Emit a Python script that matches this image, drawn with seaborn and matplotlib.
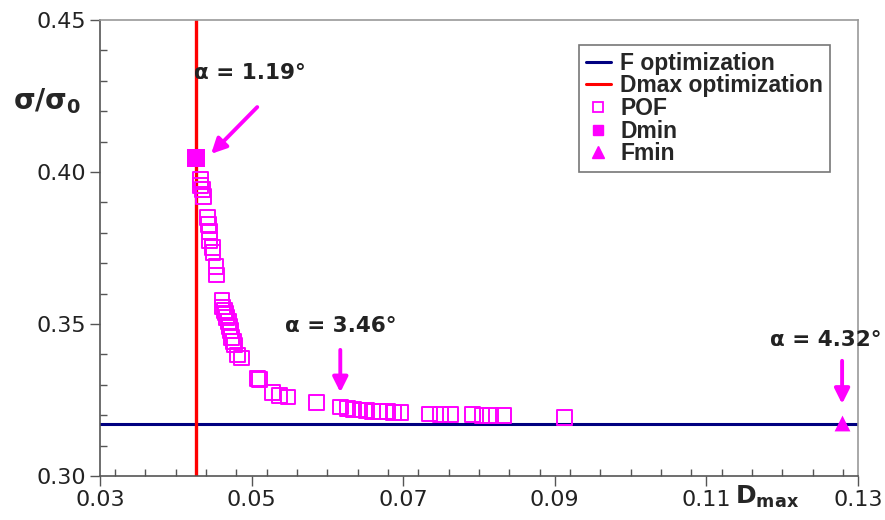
import matplotlib
matplotlib.use("Agg")
import matplotlib.pyplot as plt
import seaborn as sns
import pandas as pd
from matplotlib.ticker import MultipleLocator, FixedLocator
from matplotlib.lines import Line2D

# ---- data ----
pof_x = [0.0432, 0.0433, 0.0435, 0.0436, 0.0442, 0.0443, 0.0444, 0.0445, 0.0448, 0.0449,
         0.0453, 0.0454, 0.0461, 0.0462, 0.0464, 0.0465, 0.0467, 0.0469, 0.0471, 0.0472,
         0.0474, 0.0476, 0.0477, 0.0481, 0.0487, 0.0508, 0.0510, 0.0528, 0.0537, 0.0548,
         0.0586, 0.0617, 0.0626, 0.0634, 0.0643, 0.0652, 0.0660, 0.0669, 0.0679, 0.0687,
         0.0696, 0.0735, 0.0749, 0.0762, 0.0791, 0.0804, 0.0815, 0.0832, 0.0913]
pof_y = [0.3974, 0.3957, 0.3941, 0.3918, 0.3849, 0.3826, 0.3803, 0.3776, 0.3753, 0.3734,
         0.3688, 0.3661, 0.3579, 0.3556, 0.3545, 0.3536, 0.3520, 0.3507, 0.3493, 0.3480,
         0.3457, 0.3443, 0.3431, 0.3398, 0.3388, 0.3322, 0.3316, 0.3276, 0.3266, 0.3260,
         0.3243, 0.3227, 0.3222, 0.3220, 0.3217, 0.3215, 0.3213, 0.3212, 0.3211, 0.3210,
         0.3209, 0.3204, 0.3203, 0.3202, 0.3201, 0.3200, 0.3199, 0.3198, 0.3193]
dmin_x, dmin_y = [0.0427], [0.4046]
fmin_x, fmin_y = [0.1279], [0.3175]
f_opt_y = 0.3171
dmax_opt_x = 0.0427
annotations = ["α = 1.19°", "α = 3.46°", "α = 4.32°"]
x_ticks = [0.03, 0.05, 0.07, 0.09, 0.11, 0.13]
x_ticklabels = ["0.03", "0.05", "0.07", "0.09", "0.11", "0.13"]
y_ticks = [0.30, 0.35, 0.40, 0.45]
y_ticklabels = ["0.30", "0.35", "0.40", "0.45"]
legend_labels = ["F optimization", "Dmax optimization", "POF", "Dmin", "Fmin"]

sns.set_style("white")
plt.rcParams['font.family'] = ['DejaVu Sans']

fig = plt.figure(figsize=(8.85, 5.2), dpi=100)
ax = fig.add_axes([0.113, 0.0846, 0.8565, 0.877])

MAG = "#FF00FF"
ax.axhline(f_opt_y, color="#000080", lw=2.2, zorder=2)
ax.axvline(dmax_opt_x, color="#FF0000", lw=2.4, zorder=2)

pof = pd.DataFrame({"x": pof_x, "y": pof_y})
sns.scatterplot(data=pof, x="x", y="y", ax=ax, marker="s", s=115,
                facecolor="none", edgecolor=MAG, linewidth=1.4, zorder=3)
sns.scatterplot(x=dmin_x, y=dmin_y, ax=ax, marker="s", s=150,
                color=MAG, edgecolor=MAG, linewidth=0, zorder=4)
sns.scatterplot(x=fmin_x, y=fmin_y, ax=ax, marker="^", s=130,
                color=MAG, edgecolor=MAG, linewidth=0, zorder=4)

ax.set_xlim(0.03, 0.13)
ax.set_ylim(0.30, 0.45)
ax.set_xlabel("")
ax.set_ylabel("")

ax.xaxis.set_major_locator(FixedLocator(x_ticks))
ax.set_xticklabels(x_ticklabels)
ax.yaxis.set_major_locator(FixedLocator(y_ticks))
ax.set_yticklabels(y_ticklabels)
ax.xaxis.set_minor_locator(MultipleLocator(0.004))
ax.yaxis.set_minor_locator(MultipleLocator(0.01))
ax.tick_params(axis="both", which="major", direction="out", length=7, width=1,
               color="#555555", labelsize=16, pad=3, bottom=True, left=True,
               labelcolor="#222222")
ax.tick_params(axis="both", which="minor", direction="in", length=5, width=1,
               color="#555555", bottom=True, left=True)
for sp in ax.spines.values():
    sp.set_color("#999999")
    sp.set_linewidth(1.2)
ax.spines["left"].set_color("#555555")
ax.spines["bottom"].set_color("#555555")

# axis titles
fig.text(0.053, 0.805, r"$\mathbf{\sigma/\sigma_0}$", fontsize=20,
         ha="center", va="center")
fig.text(0.867, 0.045, r"$\mathbf{D_{max}}$", fontsize=18,
         ha="center", va="center")

# annotations
akw = dict(fontsize=15.5, fontweight="bold", color="#222222", va="center")
arw = dict(arrowstyle="-|>,head_length=0.9,head_width=0.45", color=MAG, lw=2.8)
ax.text(0.0424, 0.4327, annotations[0], ha="left", **akw)
ax.annotate("", xy=(0.0444, 0.4053), xytext=(0.0510, 0.4220), arrowprops=arw)
ax.text(0.0617, 0.3493, annotations[1], ha="center", **akw)
ax.annotate("", xy=(0.0617, 0.3266), xytext=(0.0617, 0.3424), arrowprops=arw)
ax.text(0.1258, 0.3447, annotations[2], ha="center", clip_on=False, **akw)
ax.annotate("", xy=(0.1279, 0.3228), xytext=(0.1279, 0.3388), arrowprops=arw)

handles = [
    Line2D([], [], color="#000080", lw=2.2),
    Line2D([], [], color="#FF0000", lw=2.2),
    Line2D([], [], marker="s", ls="", markerfacecolor="none", markeredgecolor=MAG, markersize=7, mew=1.3),
    Line2D([], [], marker="s", ls="", color=MAG, markersize=7),
    Line2D([], [], marker="^", ls="", color=MAG, markersize=8),
]
leg = ax.legend(handles, legend_labels, loc="upper right", bbox_to_anchor=(0.963, 0.945),
                prop={"family": "Liberation Sans", "weight": "bold", "size": 16.5},
                frameon=True, fancybox=False,
                handlelength=1.1, handletextpad=0.4, labelspacing=-0.02, borderpad=0.3,
                borderaxespad=0)
leg.get_frame().set_edgecolor("#555555")
leg.get_frame().set_linewidth(1.2)

fig.savefig("out.png", dpi=100)
